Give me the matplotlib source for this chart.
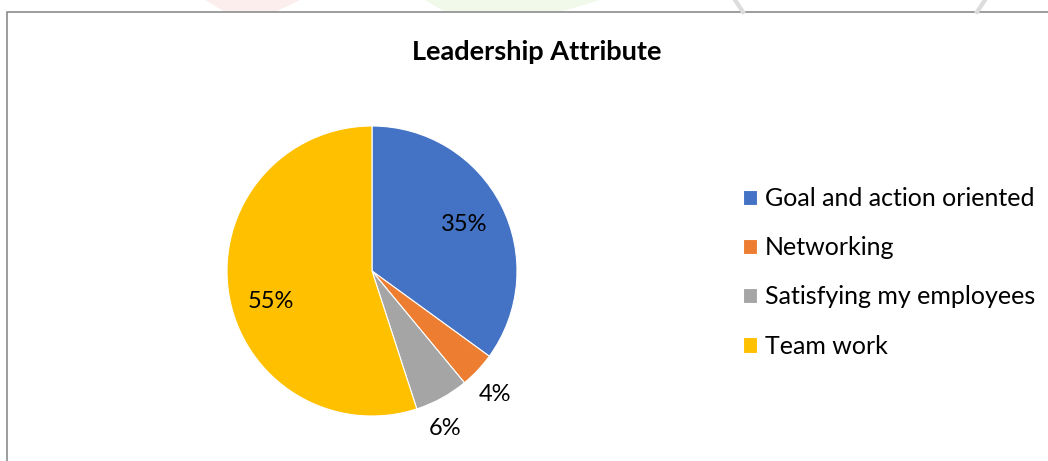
import numpy as np
import matplotlib.pyplot as plt
from matplotlib.patches import Rectangle, Polygon

plt.rcParams['font.family'] = ['Lato', 'DejaVu Sans']

categories = ["Goal and action oriented", "Networking", "Satisfying my employees", "Team work"]
shares = [35, 4, 6, 55]
colors = ["#4472C4", "#ED7D31", "#A5A5A5", "#FFC000"]

W, H = 1048, 461
fig = plt.figure(figsize=(W / 100, H / 100), dpi=100)

# faint watermark bits peeking over the frame
wm = fig.add_axes([0, 0, 1, 1], zorder=0)
wm.set_xlim(0, W)
wm.set_ylim(H, 0)
wm.axis('off')
wm.add_patch(Polygon([(205, 0), (300, 0), (275, 12), (225, 12)], closed=True,
                     facecolor="#fdeeee", edgecolor="none"))
wm.add_patch(Polygon([(425, 0), (600, 0), (560, 12), (445, 12)], closed=True,
                     facecolor="#f1f9ea", edgecolor="none"))
wm.plot([735, 743], [0, 12], color="#dcdcdc", lw=3)
wm.plot([985, 977], [0, 12], color="#dcdcdc", lw=3)
# chart frame
wm.add_patch(Rectangle((7, 12), W, H, facecolor="white", edgecolor="#8c8c8c", lw=1.2))

wm.text(537, 52, "Leadership Attribute", ha='center', va='center',
        fontsize=19.5, fontweight='bold', color="#000000")

# pie
r = 145
cx, cy = 372, 271
ax = fig.add_axes([(cx - r) / W, (H - cy - r) / H, 2 * r / W, 2 * r / H], zorder=2)
wedges, _ = ax.pie(shares, colors=colors, startangle=90, counterclock=False,
                   wedgeprops=dict(edgecolor="white", linewidth=0.8))
ax.set_xlim(-1, 1)
ax.set_ylim(-1, 1)
ax.set_aspect('auto')

# data labels: inside for big slices, outside for small ones
label_dist = [0.71, 1.2, 1.2, 0.73]
angle_shift = [0, -2, -4, 8]
for w, v, d, s in zip(wedges, shares, label_dist, angle_shift):
    ang = np.deg2rad((w.theta1 + w.theta2) / 2 + s)
    ax.text(d * np.cos(ang), d * np.sin(ang), f"{v}%", ha='center', va='center',
            fontsize=17, color="#000000")

leg = fig.legend(wedges, categories, loc='upper left',
                 bbox_to_anchor=(743 / W, 1 - 187 / H), frameon=False,
                 borderpad=0, borderaxespad=0,
                 fontsize=18, handlelength=0.56, handleheight=0.56,
                 handletextpad=0.32, labelspacing=1.05)

fig.savefig("out.png", dpi=100)
